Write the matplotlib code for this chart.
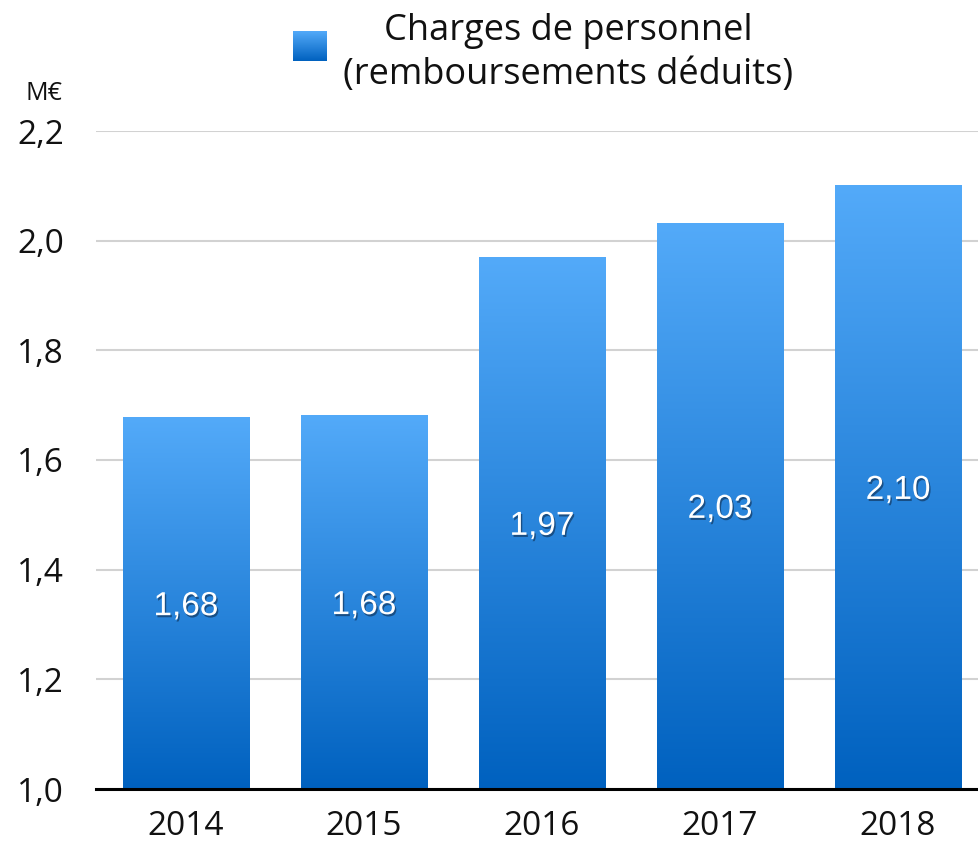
import numpy as np
import matplotlib
matplotlib.use("Agg")
import matplotlib.pyplot as plt
import matplotlib.patheffects as pe
from matplotlib.colors import LinearSegmentedColormap

years = ["2014", "2015", "2016", "2017", "2018"]
charges = [1.677, 1.681, 1.970, 2.032, 2.101]
value_labels = ["1,68", "1,68", "1,97", "2,03", "2,10"]
y_ticks = [1.0, 1.2, 1.4, 1.6, 1.8, 2.0, 2.2]
y_tick_labels = ["1,0", "1,2", "1,4", "1,6", "1,8", "2,0", "2,2"]
legend_label = "Charges de personnel\n(remboursements déduits)"
unit_label = "M€"

TOP_COL = "#53AAF9"
BOT_COL = "#0061BF"
grad_cmap = LinearSegmentedColormap.from_list("bar_grad", [BOT_COL, TOP_COL])
grad = np.linspace(0, 1, 256).reshape(-1, 1)

plt.rcParams["font.family"] = ["Open Sans", "DejaVu Sans"]

fig = plt.figure(figsize=(9.79, 8.41), dpi=100)
ax = fig.add_axes([96 / 979, 1 - 789 / 841, 1 - 96 / 979, (789 - 131) / 841])

x = np.arange(len(years))
width = 0.713
bars = ax.bar(x, charges, width=width, bottom=0, color="none", zorder=2)
for b, lab in zip(bars, value_labels):
    x0, w, h = b.get_x(), b.get_width(), b.get_height()
    ax.imshow(grad, cmap=grad_cmap, origin="lower", aspect="auto",
              extent=[x0, x0 + w, 1.0, h], zorder=2, interpolation="bicubic")
    ax.text(x0 + w / 2, (1.0 + h) / 2 - 0.006, lab, ha="center", va="center",
            color="white", fontsize=24, family=["Liberation Sans"], zorder=3,
            path_effects=[pe.SimplePatchShadow(offset=(1.0, -1.5), shadow_rgbFace="#0a1a30", alpha=0.5),
                          pe.Normal()])

ax.set_xlim(-0.5056, 4.455)
ax.set_ylim(1.0, 2.2)
ax.set_yticks(y_ticks)
ax.set_yticklabels(y_tick_labels)
ax.set_xticks(x)
ax.set_xticklabels(years)
ax.tick_params(axis="both", length=0, labelsize=24, colors="#111111")
ax.tick_params(axis="y", pad=23)
ax.tick_params(axis="x", pad=15)
ax.grid(axis="y", color="#D2D2D2", linewidth=1.5, zorder=0)
ax.set_axisbelow(True)
for s in ["top", "right", "left"]:
    ax.spines[s].set_visible(False)
ax.spines["bottom"].set_linewidth(2.2)
ax.spines["bottom"].set_color("black")
ax.spines["bottom"].set_zorder(4)

# unit label
fig.text(63 / 979, 1 - 94 / 841, unit_label, ha="right", va="center", fontsize=18, color="#111111")

# legend
lax = fig.add_axes([293 / 979, 1 - 61 / 841, 33 / 979, 30 / 841])
lax.imshow(grad, cmap=grad_cmap, origin="lower", aspect="auto", extent=[0, 1, 0, 1])
lax.set_axis_off()
fig.text(568 / 979, 1 - 53 / 841, legend_label, ha="center", va="center",
         fontsize=26, color="#111111", linespacing=1.27)

fig.savefig("out.png", dpi=100)
